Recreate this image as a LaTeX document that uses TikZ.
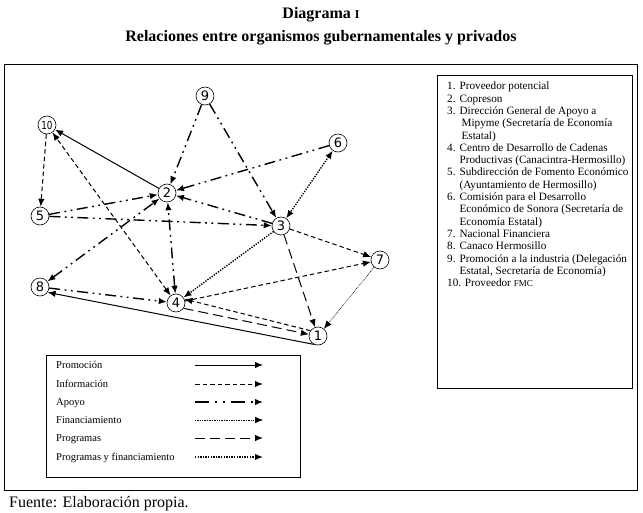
\documentclass[tikz,border=0pt]{standalone}
\usepackage{fontspec}
\setmainfont{Liberation Serif}
\newfontfamily\numfont{DejaVu Sans}
\usetikzlibrary{arrows.meta}
\tikzset{
  org/.style={circle,draw,line width=0.6pt,minimum size=18pt,inner sep=0pt,
    font=\numfont\fontsize{13}{13}\selectfont},
  tip/.style={-{Latex[length=8pt,width=6.5pt]}},
  both/.style={{Latex[length=8pt,width=6.5pt]}-{Latex[length=8pt,width=6.5pt]}},
  promo/.style={line width=1pt},
  info/.style={line width=1pt,dash pattern=on 4.5pt off 3pt},
  apoyo/.style={line width=1.4pt,dash pattern=on 11pt off 4.5pt on 1.8pt off 4.5pt on 1.8pt off 4.5pt},
  fin/.style={line width=0.6pt,dash pattern=on 0.8pt off 0.9pt},
  prog/.style={line width=1pt,dash pattern=on 10pt off 5pt},
  progfin/.style={line width=1.4pt,dash pattern=on 1.3pt off 1.3pt},
  legtext/.style={anchor=base west,inner sep=0pt,font=\fontsize{10.5}{12}\selectfont},
  frame/.style={draw,line width=0.8pt}
}
\begin{document}
\begin{tikzpicture}[x=1pt,y=-1pt]
\useasboundingbox (0,0) rectangle (643,513);
% title
\node[font=\bfseries\fontsize{16}{19}\selectfont] (t1) at (321,15) {Diagrama {\fontsize{12}{12}\selectfont I}};
\node[font=\bfseries\fontsize{16}{19}\selectfont] (t2) at (321,38) {Relaciones entre organismos gubernamentales y privados};
% frames
\draw[frame] (4,64) rectangle (637,490);
\draw[frame] (437,75) rectangle (632,388);
\draw[frame] (46,355) rectangle (300,477);
% organisations
\node[org] (n1) at (318,336) {1};
\node[org] (n2) at (167,193) {2};
\node[org] (n3) at (281,226) {3};
\node[org] (n4) at (176,303) {4};
\node[org] (n5) at (40,216) {5};
\node[org] (n6) at (338,143) {6};
\node[org] (n7) at (380,260) {7};
\node[org] (n8) at (40,287) {8};
\node[org] (n9) at (205,96) {9};
\node[org,font=\numfont\fontsize{11}{11}\selectfont] (n10) at (47,125) {\scalebox{0.8}[1]{10}};
% connectors
\draw[promo,tip] (n2) -- (n10);
\draw[info,tip] (n10) -- (n5);
\draw[info,both] (n4) -- (n10);
\draw[apoyo,tip] (n9) -- (n2);
\draw[apoyo,tip] (n9) -- (n3);
\draw[apoyo,tip] (n6) -- (n2);
\draw[progfin,both] (n6) -- (n3);
\draw[apoyo,tip] (n5) -- (n2);
\draw[apoyo,tip] (n5) -- (n3);
\draw[apoyo,tip] (n3) -- (n2);
\draw[apoyo,both] (n8) -- (n2);
\draw[apoyo,both] (n4) -- (n2);
\draw[apoyo,tip] (n8) -- (n4);
\draw[progfin,tip] (n3) -- (n4);
\draw[info,tip] (n3) -- (n7);
\draw[info,tip] (n4) -- (n7);
\draw[prog,tip] (n3) -- (n1);
\draw[fin,tip] (n7) -- (n1);
\draw[info,tip] (n1.145) -- (n4.25);
\draw[prog,tip] (n4.-35) -- (n1.170);
\draw[promo,tip] (n1.-115) -- (n8.-35);
% legend
\node[legtext] (l1) at (56,368) {Promoción};
\node[legtext] (l2) at (56,387) {Información};
\node[legtext] (l3) at (56,405) {Apoyo};
\node[legtext] (l4) at (56,423) {Financiamiento};
\node[legtext] (l5) at (56,441) {Programas};
\node[legtext] (l6) at (56,460) {Programas y financiamiento};
\coordinate (a1s) at (195,365); \coordinate (a1e) at (263,365);
\coordinate (a2s) at (195,384); \coordinate (a2e) at (263,384);
\coordinate (a3s) at (195,402); \coordinate (a3e) at (263,402);
\coordinate (a4s) at (195,420); \coordinate (a4e) at (263,420);
\coordinate (a5s) at (195,438); \coordinate (a5e) at (263,438);
\coordinate (a6s) at (195,457); \coordinate (a6e) at (263,457);
\draw[promo,tip] (a1s) -- (a1e);
\draw[info,tip] (a2s) -- (a2e);
\draw[apoyo,tip,dash pattern=on 14pt off 6pt on 2pt off 6pt on 2pt off 6pt] (a3s) -- (a3e);
\draw[fin,tip] (a4s) -- (a4e);
\draw[prog,tip] (a5s) -- (a5e);
\draw[progfin,tip] (a6s) -- (a6e);
% list
\node[anchor=north west,inner sep=0pt,font=\fontsize{11.2}{12.3}\selectfont] (list) at (447,81) {%
\begin{tabular}{@{}l@{\hspace{4pt}}l@{}}
1. & Proveedor potencial\\
2. & Copreson\\
3. & Dirección General de Apoyo a\\
   & \hspace{2pt}Mipyme (Secretaría de Economía\\
   & \hspace{2pt}Estatal)\\
4. & Centro de Desarrollo de Cadenas\\
   & Productivas (Canacintra-Hermosillo)\\
5. & Subdirección de Fomento Económico\\
   & (Ayuntamiento de Hermosillo)\\
6. & Comisión para el Desarrollo\\
   & Económico de Sonora (Secretaría de\\
   & Economía Estatal)\\
7. & Nacional Financiera\\
8. & Canaco Hermosillo\\
9. & Promoción a la industria (Delegación\\
   & Estatal, Secretaría de Economía)\\
\multicolumn{2}{@{}l}{10. Proveedor {\fontsize{9}{10}\selectfont FMC}}
\end{tabular}};
\node[anchor=base west,inner sep=0pt,font=\fontsize{16}{19}\selectfont] (src) at (9,507) {Fuente: Elaboración propia.};
\end{tikzpicture}
\end{document}
